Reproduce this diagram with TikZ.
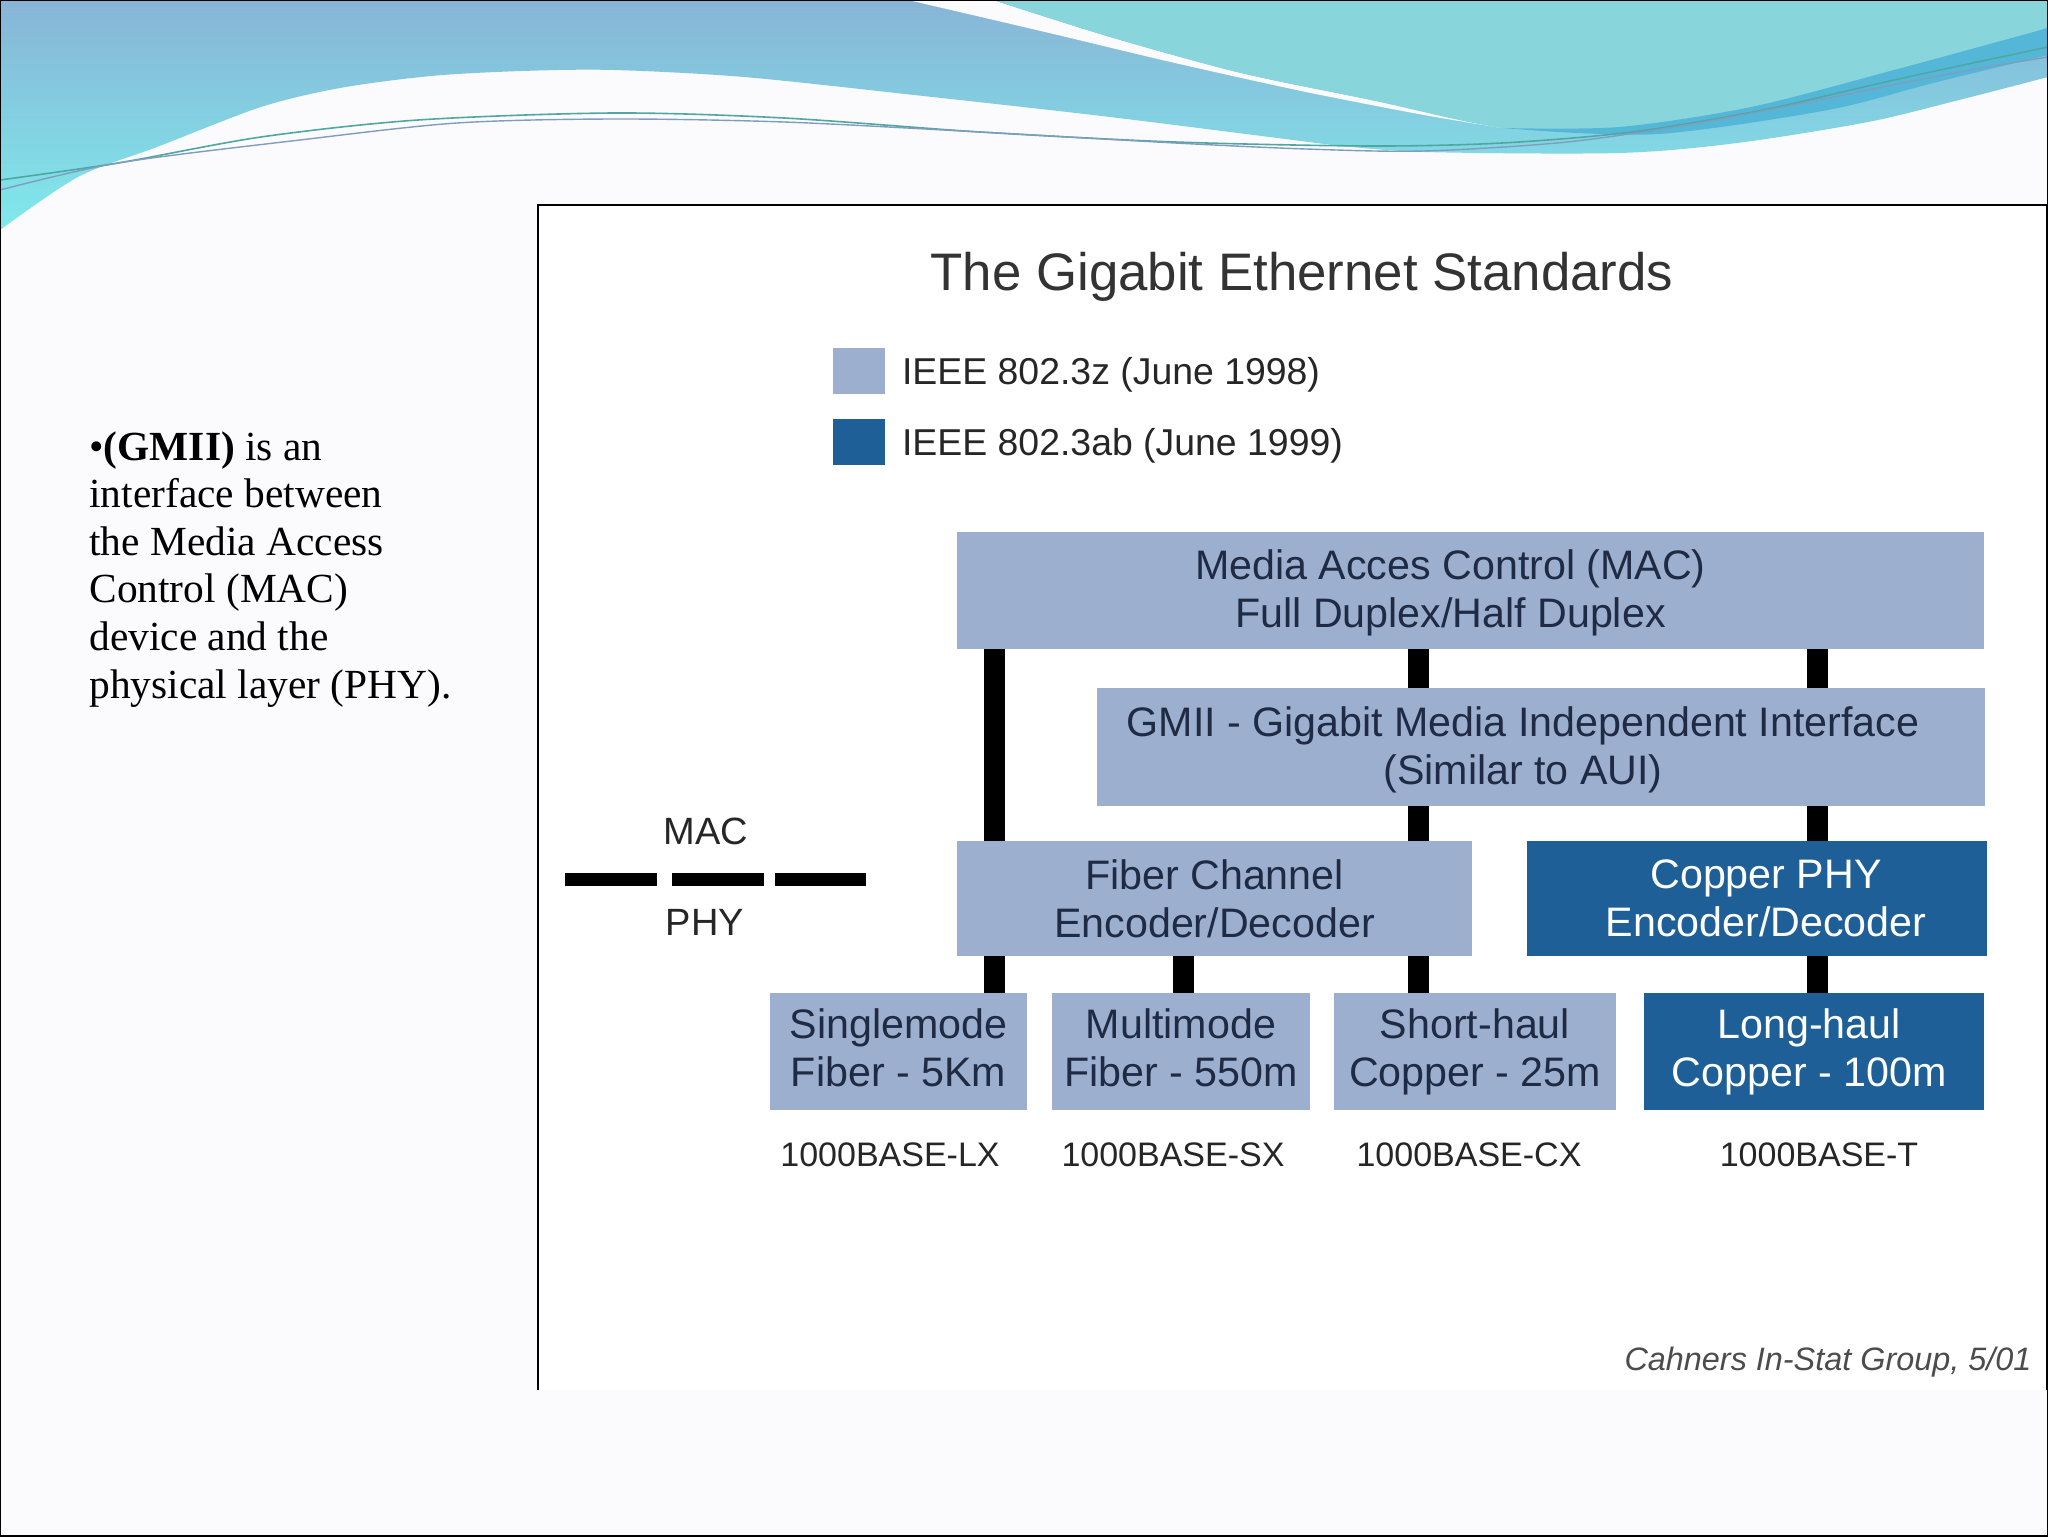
\documentclass[tikz,border=0pt]{standalone}
\usepackage{fontspec}
\setmainfont{Liberation Sans}
\newfontfamily\notefont{Liberation Serif}
\usepackage{xcolor}
\usepackage{tikz}
\definecolor{pagebg}{HTML}{FBFAFD}
\definecolor{lightbar}{HTML}{9DAFCE}
\definecolor{darkbar}{HTML}{1E5F98}
\definecolor{barink}{HTML}{1F2B45}
\definecolor{titleink}{HTML}{333333}
\definecolor{wavetop}{HTML}{88B4D6}
\definecolor{wavelow}{HTML}{7FEAEC}
\definecolor{waveteal}{HTML}{88D6DC}
\definecolor{wavedeep}{HTML}{55B7D8}
\definecolor{swishgreen}{HTML}{4FA8A0}
\definecolor{swishblue}{HTML}{7F9DBE}
\newcommand{\lineup}{\rule{0pt}{17.5pt}}

\begin{document}
\begin{tikzpicture}[x=.5pt,y=-.5pt,
        bar/.style = {inner sep=0pt,align=center,font=\fontsize{20.6}{24}\selectfont},
        lightbar/.style = {bar,fill=lightbar,text=barink},
        darkbar/.style = {bar,fill=darkbar,text=white},
        link/.style = {line width=10.5pt,black},
        divider/.style = {line width=6.5pt,black},
        stdname/.style = {font=\fontsize{17}{20}\selectfont,text=black!85},
        sidetag/.style = {font=\fontsize{19}{22}\selectfont,text=black!85},
        legendtext/.style = {anchor=west,font=\fontsize{18.7}{22}\selectfont,text=black!85}
        ]
    \useasboundingbox (0,0) rectangle (2048,1536);
    \fill[pagebg] (0,0) rectangle (2048,1536);

    % top waves
    \shade[top color=wavetop,bottom color=wavelow]
    (0,0) -- (2048,0)
    -- plot[smooth] coordinates {(2048,77) (1959,100) (1868,122) (1737,143) (1619,153) (1424,152) (1332,145)}
    -- plot[smooth] coordinates {(1332,145) (1110,117) (914,95) (744,77) (614,70) (522,71) (431,76) (340,88) (261,107) (157,147) (78,177) (0,230)}
    -- cycle;
    \fill[pagebg] plot[smooth] coordinates {(908,0) (1045,32) (1175,63) (1306,92) (1424,115) (1502,128)}
    -- plot[smooth] coordinates {(1502,128) (1371,100) (1241,73) (1110,37) (993,0)} -- cycle;
    \fill[waveteal] plot[smooth] coordinates {(993,0) (1110,37) (1241,73) (1371,100) (1502,128) (1619,133) (1698,128) (1828,100) (1959,60) (2048,27)}
    -- (2048,0) -- cycle;
    \fill[wavedeep] plot[smooth] coordinates {(1502,128) (1619,127) (1751,107) (1894,70) (2048,28)}
    -- plot[smooth] coordinates {(2048,55) (1933,83) (1828,110) (1659,134) (1528,130)} -- cycle;
    \draw[swishgreen,line width=.8pt] plot[smooth] coordinates {(0,180) (118,163) (261,137) (418,120) (614,113) (784,118) (980,132) (1175,142) (1371,146) (1502,143) (1632,132) (1763,110) (1894,80) (2048,47)};
    \draw[swishblue,line width=.7pt] plot[smooth] coordinates {(0,190) (118,163) (300,140) (457,123) (614,119) (784,122) (980,132) (1175,143) (1306,149) (1424,151) (1567,142) (1698,123) (1828,98) (1959,72) (2048,57)};

    % picture panel
    \fill[white] (538,205) rectangle (2048,1390);
    \draw[line width=1.1pt] (538,1390) -- (538,205) -- (2047,205) -- (2047,1390);

    \node[anchor=base west,align=left,inner sep=0pt,font=\notefont\fontsize{20.7}{23.8}\selectfont] (note) at (89,698)
    {•\textbf{(GMII)} is an\\interface between\\the Media Access\\Control (MAC)\\device and the\\physical layer (PHY).};

    \node[font=\fontsize{26.4}{30}\selectfont,text=titleink] (title) at (1302,277) {The Gigabit Ethernet Standards};

    \node[lightbar,minimum width=26pt,minimum height=23pt] (keyz) at (859,371) {};
    \node[darkbar,minimum width=26pt,minimum height=23pt] (keyab) at (859,442) {};
    \node[legendtext] (keyztext) at (895,375) {IEEE 802.3z (June 1998)};
    \node[legendtext] (keyabtext) at (895,446) {IEEE 802.3ab (June 1999)};

    \node[lightbar,minimum width=513.5pt,minimum height=58.5pt] (mac) at (1470.5,590.5)
    {\lineup Media Acces Control (MAC)\hspace*{20pt}\\Full Duplex/Half Duplex\hspace*{20pt}};
    \node[lightbar,minimum width=444pt,minimum height=59pt] (gmii) at (1541,747)
    {\lineup GMII - Gigabit Media Independent Interface\hspace*{18pt}\\(Similar to AUI)\hspace*{18pt}};
    \node[lightbar,minimum width=257.5pt,minimum height=57.5pt] (fiber) at (1214.5,898.5)
    {Fiber Channel\\Encoder/Decoder};
    \node[darkbar,minimum width=230pt,minimum height=57.5pt] (copper) at (1757,898.5)
    {\hspace*{9pt}Copper PHY\\\hspace*{9pt}Encoder/Decoder};
    \node[lightbar,minimum width=128.5pt,minimum height=58.5pt] (single) at (898.5,1051.5)
    {Singlemode\\Fiber - 5Km\vphantom{p}};
    \node[lightbar,minimum width=129pt,minimum height=58.5pt] (multi) at (1181,1051.5)
    {Multimode\\Fiber - 550m\vphantom{p}};
    \node[lightbar,minimum width=141pt,minimum height=58.5pt] (short) at (1475,1051.5)
    {Short-haul\\Copper - 25m};
    \node[darkbar,minimum width=170pt,minimum height=58.5pt] (long) at (1814,1051.5)
    {Long-haul\hspace*{5pt}\\Copper - 100m\hspace*{5pt}};

    % links between the layers
    \coordinate (linkA) at (994,0);
    \coordinate (linkB) at (1183,0);
    \coordinate (linkC) at (1418,0);
    \coordinate (linkD) at (1817,0);
    \draw[link] (mac.south -| linkA) -- (fiber.north -| linkA);
    \draw[link] (fiber.south -| linkA) -- (single.north -| linkA);
    \draw[link] (fiber.south -| linkB) -- (multi.north -| linkB);
    \draw[link] (mac.south -| linkC) -- (gmii.north -| linkC);
    \draw[link] (gmii.south -| linkC) -- (fiber.north -| linkC);
    \draw[link] (fiber.south -| linkC) -- (short.north -| linkC);
    \draw[link] (mac.south -| linkD) -- (gmii.north -| linkD);
    \draw[link] (gmii.south -| linkD) -- (copper.north -| linkD);
    \draw[link] (copper.south -| linkD) -- (long.north -| linkD);

    \draw[divider] (565,879) -- (657,879);
    \draw[divider] (672,879) -- (764,879);
    \draw[divider] (775,879) -- (866,879);
    \node[sidetag] (mactag) at (706,831) {MAC}; %label
    \node[sidetag] (phytag) at (705,922) {PHY}; %label

    \node[stdname] (lx) at (890,1155) {1000BASE-LX};
    \node[stdname] (sx) at (1173,1155) {1000BASE-SX};
    \node[stdname] (cx) at (1469,1155) {1000BASE-CX};
    \node[stdname] (basetee) at (1819,1155) {1000BASE-T};

    \node[font=\itshape\fontsize{16.2}{20}\selectfont,text=black!70] (source) at (1828,1362) {Cahners In-Stat Group, 5/01};

    \draw[black,line width=.6pt] (0,0) rectangle (2048,1536);
\end{tikzpicture}
\end{document}
